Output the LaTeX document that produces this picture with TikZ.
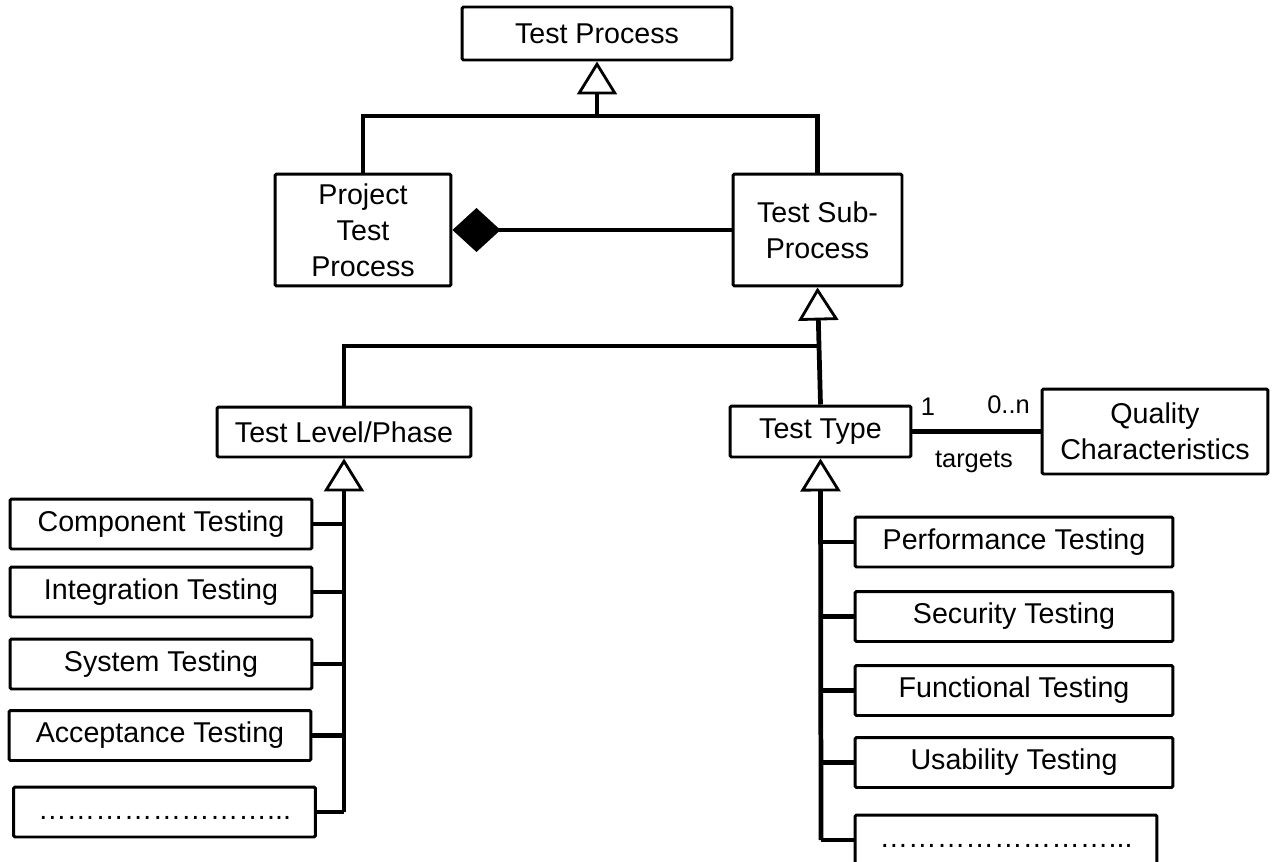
\documentclass[tikz,border=0pt]{standalone}
\usepackage{fontspec}
\setmainfont{Liberation Sans}
\usetikzlibrary{arrows.meta}

\tikzset{
  box/.style={draw,line width=1.7pt,rounded corners=0.8pt,inner sep=2pt,align=center,
    font=\fontsize{16.3}{20.5}\selectfont},
  lbox/.style={box,minimum width=6.04cm,minimum height=1cm},
  rbox/.style={box,minimum width=6.36cm,minimum height=1cm},
  conn/.style={line width=2.7pt},
  gen/.style={-{Triangle[open,length=0.66cm,width=0.8cm,line width=1.6pt]}},
  whole/.style={-{Diamond[length=0.96cm,width=0.88cm,line width=0.5pt]}},
  lbl/.style={font=\fontsize{14.5}{17}\selectfont}
}

\begin{document}
\begin{tikzpicture}[x=0.02cm,y=-0.02cm]
\useasboundingbox (0,0) rectangle (1278,862);

\node[box,minimum width=5.4cm,minimum height=1.06cm] (tp) at (597,33.5) {Test Process};
\node[box,minimum width=3.52cm,minimum height=2.24cm] (ptp) at (363,230) {Project\\Test\\Process};
\node[box,minimum width=3.38cm,minimum height=2.24cm] (tsp) at (817.5,230) {Test Sub-\\Process};
\node[box,minimum width=5.08cm,minimum height=1cm] (tlp) at (344,432) {Test Level/Phase};
\node[box,minimum width=3.62cm,minimum height=1.02cm] (tt) at (820.5,431.5) {Test Type};
\node[box,minimum width=4.52cm,minimum height=1.7cm] (qc) at (1155,431.5) {Quality\\Characteristics};

\node[lbox] (comp) at (161,524) {Component Testing};
\node[lbox] (integ) at (161,592) {Integration Testing};
\node[lbox] (sys) at (161,664) {System Testing};
\node[lbox] (acc) at (160,735.5) {Acceptance Testing};
\node[lbox] (ldots) at (164.5,812) {\strut……………………...};

\node[rbox] (perf) at (1014,542) {Performance Testing};
\node[rbox] (sec) at (1014,616.5) {Security Testing};
\node[rbox] (func) at (1014,690.5) {Functional Testing};
\node[rbox] (usab) at (1014,762.5) {Usability Testing};
\node[lbox] (rdots) at (1006,840) {\strut……………………...};

\coordinate (j1) at (597,116);
\coordinate (j2) at (818.5,346);
\coordinate (lbot) at (344,812);
\coordinate (rbot) at (821,840);

\draw[conn] (ptp.north) -- (ptp.north |- j1) -- (tsp.north |- j1) -- (tsp.north);
\draw[conn,gen] (j1) -- (tp.south);
\draw[conn,whole] (tsp.west) -- (ptp.east);

\draw[conn,gen] (tt.north) -- (tsp.south);
\draw[conn] (tlp.north) |- (j2);

\draw[conn,gen] (lbot) -- (tlp.south);
\foreach \n in {comp,integ,sys,acc,ldots}
  \draw[conn] (\n.east) -- (\n.east -| lbot);

\draw[conn,gen] (rbot) -- (tt.south);
\foreach \n in {perf,sec,func,usab,rdots}
  \draw[conn] (\n.west) -- (\n.west -| rbot);

\draw[conn] (tt.east) -- node[lbl,pos=0.12,above=1.5mm] (one) {1}
  node[lbl,pos=0.75,above=2mm] (many) {0..n}
  node[lbl,pos=0.48,below=2.3mm] (tgt) {targets} (qc.west);
\end{tikzpicture}
\end{document}
